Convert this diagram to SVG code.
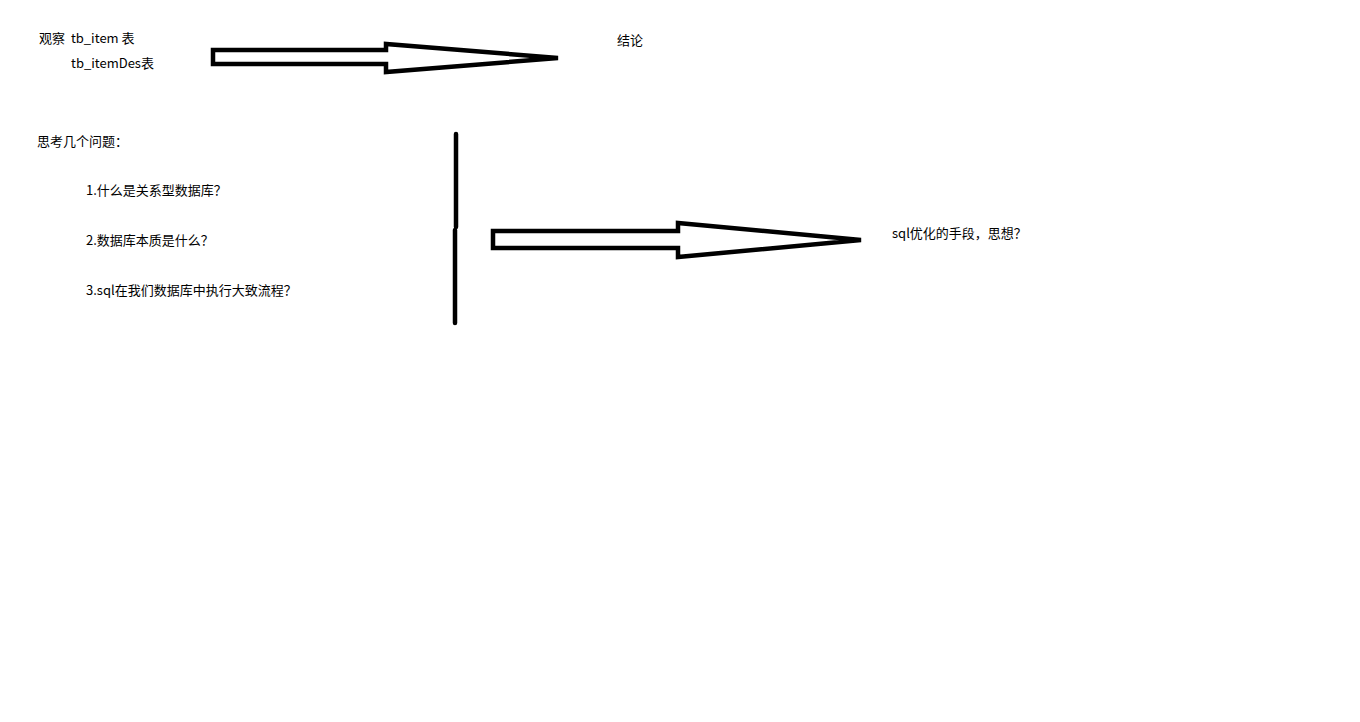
<svg xmlns="http://www.w3.org/2000/svg" width="1360" height="722" viewBox="0 0 1360 722">
<style>
text{font-family:"Noto Sans CJK SC","Liberation Sans",sans-serif;font-size:13px;fill:#000}
.stroke{fill:none;stroke:#000;stroke-width:4.5;stroke-linejoin:miter;stroke-linecap:round}
</style>
<rect width="1360" height="722" fill="#fff"/>
<g id="texts">
<g id="n-observe"><text x="39" y="43">观察 <tspan dx="3">tb_item 表</tspan></text><text x="71" y="68">tb_itemDes表</text></g>
<g id="n-conclusion"><text x="617" y="45">结论</text></g>
<g id="n-questions">
<text x="37" y="146">思考几个问题：</text>
<text x="86" y="195">1.什么是关系型数据库？</text>
<text x="86" y="245">2.数据库本质是什么？</text>
<text x="86" y="295">3.sql在我们数据库中执行大致流程？</text>
</g>
<g id="n-sql"><text x="892" y="238">sql优化的手段，思想？</text></g>
</g>
<g id="connectors">
<path class="stroke" d="M213,50 L386,50 L386,44 L558,58 L386,72 L386,64 L213,64 Z"/>
<path class="stroke" d="M493,231 L678,231 L678,223 L861,240 L678,257 L678,248 L493,248 Z"/>
<path class="stroke" d="M456,134 L456,227 M455,230 L455,323"/>
</g>
</svg>
